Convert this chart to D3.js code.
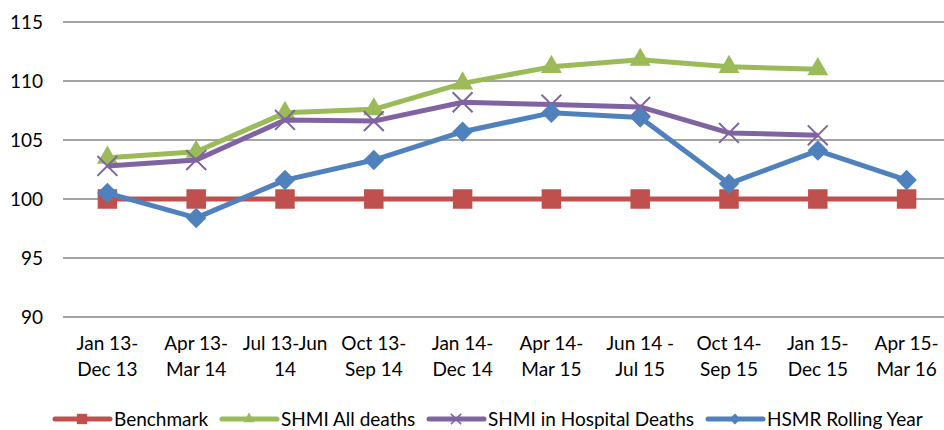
<!DOCTYPE html>
<html>
<head>
<meta charset="utf-8">
<script src="https://cdn.jsdelivr.net/npm/d3@7"></script>
<style>
  body { margin: 0; background: #fff; }
  text { font-family: Lato, "Open Sans", sans-serif; fill: #000; }
</style>
</head>
<body>
<svg id="drawing_region" width="944" height="430"></svg>
<script>
var categories = [
  ["Jan 13-", "Dec 13"], ["Apr 13-", "Mar 14"], ["Jul 13-Jun", "14"], ["Oct 13-", "Sep 14"],
  ["Jan 14-", "Dec 14"], ["Apr 14-", "Mar 15"], ["Jun 14 -", "Jul 15"], ["Oct 14-", "Sep 15"],
  ["Jan 15-", "Dec 15"], ["Apr 15-", "Mar 16"]
];
var benchmark = [100, 100, 100, 100, 100, 100, 100, 100, 100, 100];
var shmiAll = [103.5, 104.0, 107.3, 107.6, 109.8, 111.2, 111.8, 111.2, 111.0, null];
var shmiHosp = [102.8, 103.3, 106.7, 106.6, 108.2, 108.0, 107.8, 105.6, 105.4, null];
var hsmr = [100.5, 98.4, 101.6, 103.3, 105.7, 107.3, 106.9, 101.3, 104.1, 101.6];
var yTicks = [90, 95, 100, 105, 110, 115];

var series = [
  { name: "Benchmark", values: benchmark, color: "#C0504D", marker: "square" },
  { name: "SHMI All deaths", values: shmiAll, color: "#9BBB59", marker: "triangle" },
  { name: "SHMI in Hospital Deaths", values: shmiHosp, color: "#8064A2", marker: "x" },
  { name: "HSMR Rolling Year", values: hsmr, color: "#4F81BD", marker: "diamond" }
];

var svg = d3.select('#drawing_region');
var margin = { left: 63, right: -7, top: 22, bottom: 113 };
var width = 944, height = 430;

var xscale = d3.scaleBand()
  .domain(d3.range(categories.length))
  .range([margin.left, width - margin.right]);

var yscale = d3.scaleLinear()
  .domain([90, 115])
  .range([height - margin.bottom, margin.top]);

// gridlines
svg.append('g').selectAll('line')
  .data(yTicks)
  .join('line')
  .attr('x1', margin.left)
  .attr('x2', width)
  .attr('y1', d => yscale(d))
  .attr('y2', d => yscale(d))
  .attr('stroke', '#868686')
  .attr('stroke-width', 1.5);

// y labels
svg.append('g').selectAll('text')
  .data(yTicks)
  .join('text')
  .attr('x', 43)
  .attr('y', d => yscale(d))
  .attr('dy', '0.35em')
  .attr('text-anchor', 'end')
  .style('font-size', '19px')
  .text(d => d);

function cx(i) { return xscale(i) + xscale.bandwidth() / 2; }

// x labels
var xl = svg.append('g').selectAll('text')
  .data(categories)
  .join('text')
  .attr('text-anchor', 'middle')
  .style('font-size', '19px');
xl.each(function(d, i) {
  var t = d3.select(this);
  d.forEach((line, j) => {
    t.append('tspan')
      .attr('x', cx(i))
      .attr('y', 350 + j * 26)
      .text(line);
  });
});

function symbolFor(type, small) {
  var k = small ? 0.28 : 1;
  if (type === 'square') return d3.symbol().type(d3.symbolSquare).size(380 * k)();
  if (type === 'triangle') return d3.symbol().type(d3.symbolTriangle).size(190 * k)();
  if (type === 'diamond') return d3.symbol().type(d3.symbolSquare).size(210 * k)();
  return d3.symbol().type(d3.symbolTimes).size(small ? 70 : 260)();
}

function drawMarker(g, s, x, y, small) {
  var p = g.append('path')
    .attr('d', symbolFor(s.marker, small))
    .attr('transform', `translate(${x},${y})` + (s.marker === 'diamond' ? ' rotate(45)' : ''));
  if (s.marker === 'x') {
    p.attr('fill', 'none').attr('stroke', s.color).attr('stroke-width', small ? 1.5 : 2);
  } else {
    p.attr('fill', s.color);
  }
}

var line = d3.line()
  .defined(d => d != null)
  .x((d, i) => cx(i))
  .y(d => yscale(d));

series.forEach(s => {
  var g = svg.append('g');
  g.append('path')
    .datum(s.values)
    .attr('d', line)
    .attr('fill', 'none')
    .attr('stroke', s.color)
    .attr('stroke-width', 5)
    .attr('stroke-linejoin', 'round');
  s.values.forEach((v, i) => {
    if (v != null) drawMarker(g, s, cx(i), yscale(v), false);
  });
});

// legend
var legendX = [55, 222, 429, 708];
series.forEach((s, i) => {
  var g = svg.append('g');
  g.append('line')
    .attr('x1', legendX[i]).attr('x2', legendX[i] + 55)
    .attr('y1', 419).attr('y2', 419)
    .attr('stroke', s.color).attr('stroke-width', 5)
    .attr('stroke-linecap', 'round');
  drawMarker(g, s, legendX[i] + 27, 419, true);
  g.append('text')
    .attr('x', legendX[i] + 59)
    .attr('y', 419)
    .attr('dy', '0.35em')
    .style('font-size', '19px')
    .text(s.name);
});
</script>
</body>
</html>
